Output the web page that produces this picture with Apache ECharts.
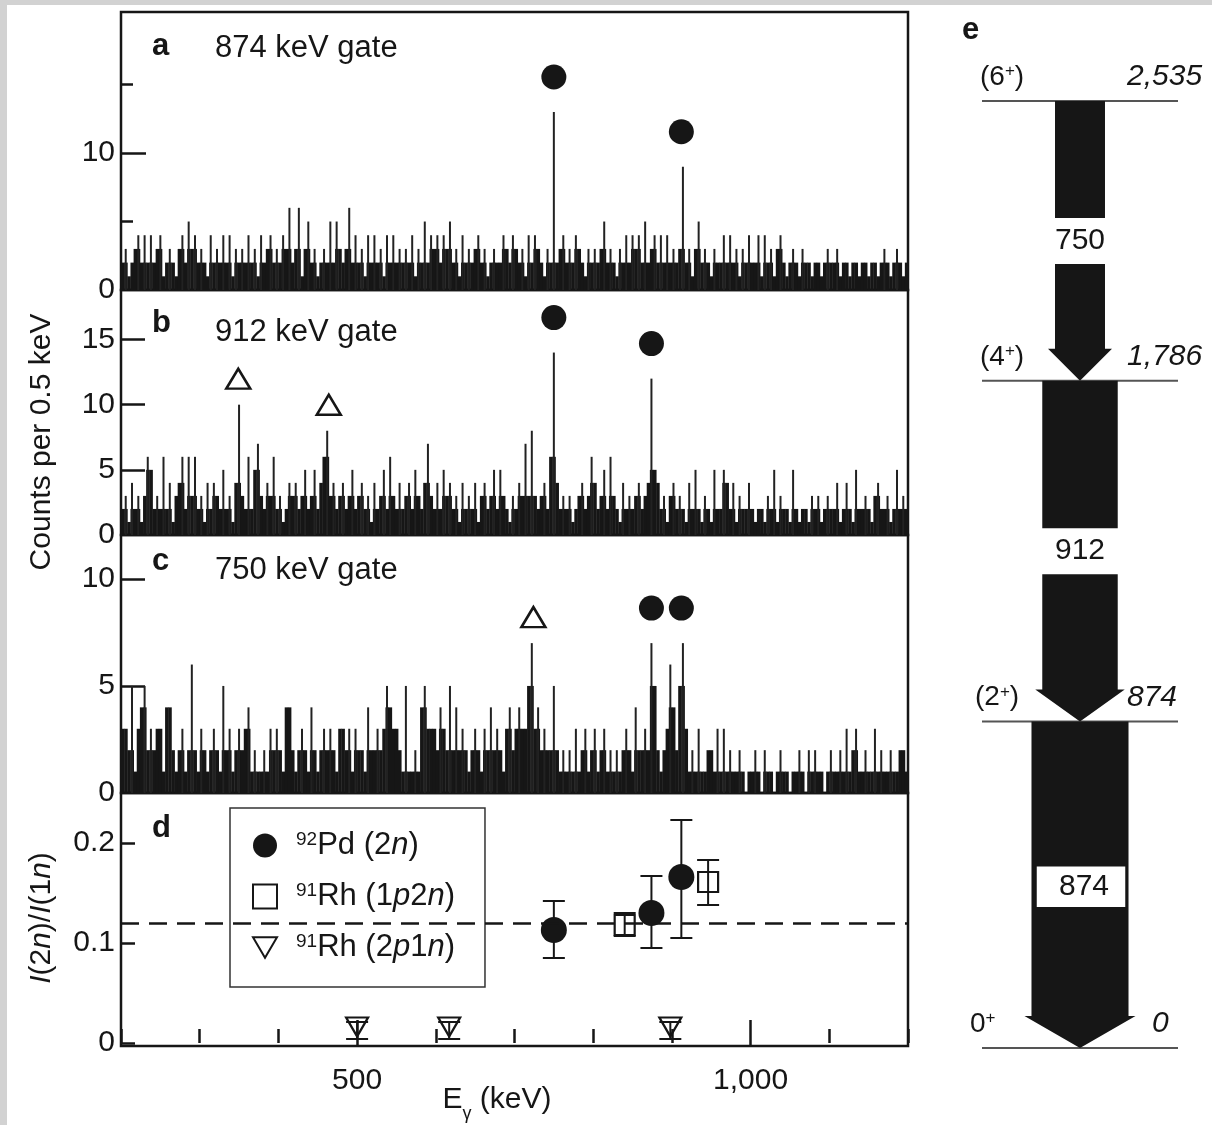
<!DOCTYPE html>
<html>
<head>
<meta charset="utf-8">
<title>92Pd gated spectra and level scheme</title>
<script src="https://cdn.jsdelivr.net/npm/echarts@6/dist/echarts.min.js"></script>
<style>
  html, body { margin: 0; padding: 0; background: #fff; }
  #chart { width: 1212px; height: 1125px; }
</style>
</head>
<body>
<div id="chart"></div>
<script>
const INK = '#161616';
const FONT = "'Liberation Sans', Arial, Helvetica, sans-serif";

// ---- gated gamma spectra (counts per bin, bins start at energyStart) ----
const energyStart = 200;   // keV
const binWidth = 4;        // keV

const countsA = [
  2,3,1,2,3,4,2,4,2,4,  2,3,4,1,2,3,2,1,3,4,  2,5,3,4,2,3,2,1,4,2,  3,2,4,2,4,1,3,2,3,2,
  4,2,3,1,4,2,3,4,2,3,  2,4,3,6,2,3,6,1,3,5,  2,3,1,2,3,2,5,2,5,3,  2,3,6,2,4,2,3,1,4,2,
  4,2,3,1,4,2,4,2,3,2,  3,2,4,1,3,2,5,2,4,3,  4,2,4,3,5,2,3,1,4,2,  3,2,3,4,2,3,1,2,3,2,
  2,4,3,2,4,3,2,3,1,4,  2,4,3,2,1,3,2,13,2,3, 4,2,3,2,4,3,2,1,3,2,  3,2,3,5,2,3,2,1,3,2,
  4,2,4,3,4,2,5,2,3,4,  2,4,2,4,2,3,2,3,9,2,  3,1,3,5,2,3,2,1,3,2,  2,4,2,4,2,3,1,3,2,4,
  2,2,4,1,4,2,3,1,3,4,  2,1,2,3,2,1,3,2,2,1,  2,2,1,2,3,2,2,3,1,2,  2,1,2,2,1,2,2,1,2,2,
  1,2,3,2,1,2,3,2,1,2
];
const countsB = [
  2,3,1,4,2,3,1,3,6,5,  2,3,2,6,2,4,1,3,4,6,  2,6,3,6,2,3,1,4,2,4,  3,2,5,2,3,1,4,10,3,2,
  6,2,5,7,3,2,4,3,6,2,  3,1,2,4,3,4,2,3,5,2,  3,5,2,4,6,8,3,4,2,3,  4,2,3,5,2,3,4,2,3,1,
  4,2,3,5,2,6,3,2,4,2,  3,4,2,5,3,2,4,7,3,2,  4,2,5,3,4,2,3,1,4,2,  3,2,4,1,3,4,2,3,5,2,
  5,3,2,1,3,2,4,3,7,3,  8,3,2,3,4,2,6,14,4,2, 3,2,3,1,2,3,4,2,3,6,  4,2,3,5,2,6,3,2,1,4,
  2,3,2,3,4,2,3,4,12,5, 4,2,3,1,3,4,2,3,2,1,  4,2,5,2,1,3,2,1,5,2,  2,5,4,2,4,1,3,2,2,4,
  2,1,2,2,1,3,2,5,1,3,  2,2,1,5,2,1,2,2,1,3,  2,3,1,2,3,2,2,4,1,2,  4,2,1,5,2,2,3,2,1,3,
  4,2,2,3,1,2,5,2,3,2
];
const countsC = [
  3,3,2,5,1,3,4,5,2,3,  2,3,3,1,4,4,2,1,2,3,  1,2,6,2,1,3,2,1,2,3,  2,1,5,2,3,1,2,3,2,3,
  4,1,2,1,1,2,1,3,2,3,  2,1,4,4,2,1,2,3,2,1,  4,2,1,2,3,2,3,2,1,3,  3,2,3,1,3,2,2,1,4,2,
  2,3,2,3,5,4,3,3,2,1,  5,1,1,2,1,4,5,3,3,3,  2,4,3,2,5,2,4,2,3,2,  1,2,3,2,1,3,2,4,2,3,
  2,1,3,4,2,3,4,3,3,5,  7,3,4,2,3,2,2,5,2,1,  2,1,2,1,3,1,2,3,1,2,  3,1,2,3,1,2,1,2,1,2,
  3,2,1,4,2,2,3,2,7,5,  2,1,2,3,6,4,2,5,7,3,  1,2,1,3,1,1,2,2,1,3,  1,3,1,2,1,1,2,1,0,1,
  1,2,1,0,2,1,1,0,1,2,  1,1,0,1,1,2,1,0,2,1,  2,1,1,0,1,2,1,1,2,1,  3,1,2,3,1,1,2,1,1,3,
  1,2,1,1,2,1,1,2,2,1
];

// gamma lines flagged in each gated spectrum (keV)
const pdLinesA = [750, 912];
const pdLinesB = [750, 874];
const rhLinesB = [349, 464];
const pdLinesC = [874, 912];
const rhLinesC = [724];

// ---- yield ratio I(2n)/I(1n) ----
const pdEnergy = [750, 874, 912];
const pdRatio  = [0.113, 0.130, 0.166];
const pdLow    = [0.085, 0.095, 0.105];
const pdHigh   = [0.142, 0.167, 0.223];

const rh1Energy = [840, 946];
const rh1Ratio  = [0.118, 0.161];
const rh1Low    = [0.107, 0.138];
const rh1High   = [0.130, 0.183];

const rh2Energy = [500, 617, 898];
const rh2Ratio  = [0.016, 0.016, 0.016];
const rh2Low    = [0.004, 0.004, 0.004];
const rh2High   = [0.021, 0.021, 0.021];

const meanRatio = 0.122;

// ---- level scheme of 92Pd ----
const levelEnergy = [0, 874, 1786, 2535];
const levelSpin   = ['0{s|+}', '(2{s|+})', '(4{s|+})', '(6{s|+})'];
const levelLabel  = ['0', '874', '1,786', '2,535'];
const gammaLabel     = ['750', '912', '874'];
const gammaFrom      = [2535, 1786, 874];
const gammaTo        = [1786, 874, 0];
const gammaIntensity = [51, 77, 99];

// ---- tick values ----
const ticksMajorA = [10], ticksMinorA = [5, 15], labelsA = [0, 10];
const ticksB = [5, 10, 15], labelsB = [0, 5, 10, 15];
const ticksC = [5, 10], labelsC = [0, 5, 10];
const ticksD = [0, 0.1, 0.2], labelsD = [0, 0.1, 0.2];
const energyTicksMajor = [500, 1000];

const NAME_PD  = '92Pd (2n)';
const NAME_RH1 = '91Rh (1p2n)';
const NAME_RH2 = '91Rh (2p1n)';
const legendText = {
  [NAME_PD]:  '{sup|92}Pd (2{it|n})',
  [NAME_RH1]: '{sup|91}Rh (1{it|p}2{it|n})',
  [NAME_RH2]: '{sup|91}Rh (2{it|p}1{it|n})'
};

// ---- helpers ----
function binIndex(e) { return Math.floor((e - energyStart) / binWidth); }
function peakHeight(counts, e) {
  const k = binIndex(e);
  return Math.max(counts[k - 1], counts[k], counts[k + 1]);
}
function spectrumData(counts) {
  return counts.map((v, k) => [energyStart + binWidth * (k + 0.5), v]);
}
// each bin: solid part up to the level shared with a neighbour, thin spike above it
function spectrumRenderer(counts) {
  return function (params, api) {
    const k = params.dataIndex;
    const v = counts[k];
    const prev = k > 0 ? counts[k - 1] : v;
    const next = k < counts.length - 1 ? counts[k + 1] : v;
    const core = Math.min(v, Math.max(prev, next));
    const e = api.value(0);
    const l = api.coord([e - binWidth / 2, 0]);
    const r = api.coord([e + binWidth / 2, 0]);
    const yCore = api.coord([e, core])[1];
    const yTop = api.coord([e, v])[1];
    const children = [];
    if (core > 0) {
      children.push({ type: 'rect', shape: { x: l[0], y: yCore, width: r[0] - l[0] + 0.4, height: l[1] - yCore }, style: { fill: INK } });
    }
    if (v > core) {
      const cx = (l[0] + r[0]) / 2;
      children.push({ type: 'rect', shape: { x: cx - 1, y: yTop, width: 2, height: l[1] - yTop }, style: { fill: '#222' } });
    }
    return { type: 'group', children };
  };
}
function spectrumSeries(counts, axisIdx, yIdx) {
  return {
    type: 'custom', xAxisIndex: axisIdx, yAxisIndex: yIdx, silent: true,
    data: spectrumData(counts), renderItem: spectrumRenderer(counts), z: 2
  };
}
function markerSeries(lines, counts, axisIdx, yIdx, kind) {
  const circle = kind === 'circle';
  return {
    type: 'scatter', xAxisIndex: axisIdx, yAxisIndex: yIdx, silent: true, clip: false,
    data: lines.map(e => [e, peakHeight(counts, e)]),
    symbol: circle ? 'circle' : 'triangle',
    symbolSize: circle ? 25 : [24, 20],
    symbolOffset: [0, circle ? -35 : -26],
    itemStyle: circle
      ? { color: INK, opacity: 1 }
      : { color: 'rgba(0,0,0,0)', borderColor: INK, borderWidth: 2.5, opacity: 1 },
    z: 5
  };
}
function errorBarItem(params, api) {
  const e = api.value(0);
  const p1 = api.coord([e, api.value(1)]);
  const p2 = api.coord([e, api.value(2)]);
  const cap = 11;
  const st = { stroke: INK, lineWidth: 2 };
  return {
    type: 'group', children: [
      { type: 'line', shape: { x1: p1[0], y1: p1[1], x2: p2[0], y2: p2[1] }, style: st },
      { type: 'line', shape: { x1: p1[0] - cap, y1: p1[1], x2: p1[0] + cap, y2: p1[1] }, style: st },
      { type: 'line', shape: { x1: p2[0] - cap, y1: p2[1], x2: p2[0] + cap, y2: p2[1] }, style: st }
    ]
  };
}

const textBase = { fontFamily: FONT, color: INK };
const gridBox = { show: true, borderColor: INK, borderWidth: 2.5, backgroundColor: 'rgba(0,0,0,0)' };

function energyAxis(gridIndex) {
  return {
    type: 'value', gridIndex, min: 200, max: 1200, interval: 100,
    axisLine: { show: false }, axisTick: { show: false }, axisLabel: { show: false }, splitLine: { show: false }
  };
}
function countAxis(gridIndex, max, interval, ticks, labels, tickLen) {
  return {
    type: 'value', gridIndex, position: 'left', offset: 0, min: 0, max, interval,
    axisLine: { show: false }, splitLine: { show: false },
    axisTick: { show: ticks.length > 0, inside: true, length: tickLen, customValues: ticks, lineStyle: { color: INK, width: 2.5 } },
    axisLabel: labels ? { show: true, customValues: labels, margin: 6, fontSize: 30, fontFamily: FONT, color: INK } : { show: false }
  };
}

// ---- level scheme renderers ----
const spinX = [970, 975, 980, 980];
const energyLabelX = [1152, 1127, 1127, 1127];
function levelItem(params, api) {
  const i = params.dataIndex;
  const E = api.value(1);
  const a = api.coord([-100, E]);
  const b = api.coord([100, E]);
  return {
    type: 'group', children: [
      { type: 'line', shape: { x1: a[0], y1: a[1], x2: b[0], y2: b[1] }, style: { stroke: '#555', lineWidth: 2 } },
      { type: 'text', x: spinX[i], y: a[1] - 24, style: {
          text: levelSpin[i], fill: INK, fontFamily: FONT, fontSize: 28,
          align: 'left', verticalAlign: 'middle', textAlign: 'left', textVerticalAlign: 'middle',
          rich: { s: { fontSize: 17, fontFamily: FONT, fill: INK, verticalAlign: 'top', lineHeight: 16 } }
      } },
      { type: 'text', x: energyLabelX[i], y: a[1] - 24, style: {
          text: levelLabel[i], fill: INK, fontFamily: FONT, fontSize: 30, fontStyle: 'italic',
          align: 'left', verticalAlign: 'middle', textAlign: 'left', textVerticalAlign: 'middle'
      } }
    ]
  };
}
function transitionItem(params, api) {
  const i = params.dataIndex;
  const top = api.coord([0, gammaFrom[i]]);
  const tip = api.coord([0, gammaTo[i]]);
  const half = (api.coord([gammaIntensity[i] / 2, 0])[0] - api.coord([-gammaIntensity[i] / 2, 0])[0]) / 2;
  const cx = top[0];
  const headLen = 32, wing = 7;
  const midY = (top[1] + tip[1]) / 2;
  const boxed = i === 2;
  const gap = 23;
  const yStart = boxed ? top[1] : midY + gap;
  const yHead = tip[1] - headLen;
  const children = [];
  if (!boxed) {
    children.push({ type: 'rect', shape: { x: cx - half, y: top[1], width: 2 * half, height: midY - gap - top[1] }, style: { fill: INK } });
  }
  children.push({ type: 'polygon', shape: { points: [
    [cx - half, yStart], [cx + half, yStart], [cx + half, yHead], [cx + half + wing, yHead],
    [cx, tip[1]], [cx - half - wing, yHead], [cx - half, yHead]
  ] }, style: { fill: INK } });
  if (boxed) {
    children.push({ type: 'rect', shape: { x: cx - 44, y: midY - 19, width: 90, height: 42 }, style: { fill: '#fff', stroke: INK, lineWidth: 1.5 } });
  }
  children.push({ type: 'text', x: cx + (boxed ? 4 : 0), y: midY + (boxed ? 2 : 0), style: {
    text: gammaLabel[i], fill: INK, fontFamily: FONT, fontSize: 30,
    align: 'center', verticalAlign: 'middle', textAlign: 'center', textVerticalAlign: 'middle'
  } });
  return { type: 'group', children };
}

function label(text, x, y, opts) {
  return Object.assign({
    type: 'text', x, y, z: 10,
    style: Object.assign({
      text, fill: INK, fontFamily: FONT, fontSize: 31,
      align: 'left', verticalAlign: 'middle', textAlign: 'left', textVerticalAlign: 'middle'
    }, opts && opts.style)
  }, opts && opts.el);
}

const chart = echarts.init(document.getElementById('chart'), null, { renderer: 'canvas' });

const option = {
  backgroundColor: '#fff',
  animation: false,
  textStyle: textBase,
  grid: [
    Object.assign({ left: 121, top: 12, width: 787, height: 278 }, gridBox),
    Object.assign({ left: 121, top: 290, width: 787, height: 245 }, gridBox),
    Object.assign({ left: 121, top: 535, width: 787, height: 258 }, gridBox),
    Object.assign({ left: 121, top: 793, width: 787, height: 253 }, gridBox),
    { show: false, left: 982, top: 101, width: 196, height: 947 }
  ],
  xAxis: [
    energyAxis(0), energyAxis(1), energyAxis(2),
    {
      type: 'value', gridIndex: 3, position: 'bottom', offset: 0, min: 200, max: 1200, interval: 100,
      axisLine: { show: false }, splitLine: { show: false },
      axisTick: { show: true, inside: true, length: 14, lineStyle: { color: INK, width: 2.5 } },
      axisLabel: { show: false }
    },
    {
      type: 'value', gridIndex: 3, position: 'bottom', offset: 0, min: 200, max: 1200, interval: 100,
      axisLine: { show: false }, splitLine: { show: false },
      axisTick: { show: true, inside: true, length: 26, customValues: energyTicksMajor, lineStyle: { color: INK, width: 2.5 } },
      axisLabel: {
        show: true, customValues: energyTicksMajor, margin: 20, fontSize: 30, fontFamily: FONT, color: INK,
        formatter: v => (v === 1000 ? '1,000' : String(v))
      }
    },
    { type: 'value', gridIndex: 4, min: -100, max: 100, show: false }
  ],
  yAxis: [
    countAxis(0, 20.3, 10, ticksMajorA, labelsA, 25),
    countAxis(0, 20.3, 10, ticksMinorA, null, 12),
    countAxis(1, 18.8, 5, ticksB, labelsB, 24),
    countAxis(2, 12.05, 5, ticksC, labelsC, 24),
    {
      type: 'value', gridIndex: 3, position: 'left', min: -0.003, max: 0.25,
      axisLine: { show: false }, splitLine: { show: false },
      axisTick: { show: true, inside: true, length: 14, customValues: ticksD, lineStyle: { color: INK, width: 2.5 } },
      axisLabel: {
        show: true, customValues: labelsD, margin: 6, fontSize: 30, fontFamily: FONT, color: INK,
        formatter: v => (v === 0 ? '0' : v.toFixed(1))
      }
    },
    { type: 'value', gridIndex: 4, min: 0, max: 2535, show: false }
  ],
  legend: {
    data: [NAME_PD, NAME_RH1, NAME_RH2],
    orient: 'vertical', left: 230, top: 808,
    padding: [22, 30, 24, 22],
    itemGap: 20, itemWidth: 24, itemHeight: 24,
    backgroundColor: '#fff', borderColor: '#333', borderWidth: 1.5, borderRadius: 0,
    selectedMode: false,
    formatter: name => legendText[name],
    textStyle: {
      fontFamily: FONT, fontSize: 31, color: INK, lineHeight: 30, padding: [0, 0, 0, 14],
      rich: {
        sup: { fontFamily: FONT, fontSize: 19, color: INK, verticalAlign: 'top', lineHeight: 17 },
        it: { fontFamily: FONT, fontSize: 31, color: INK, fontStyle: 'italic', lineHeight: 30 }
      }
    }
  },
  series: [
    // panel a
    spectrumSeries(countsA, 0, 0),
    markerSeries(pdLinesA, countsA, 0, 0, 'circle'),
    // panel b
    spectrumSeries(countsB, 1, 2),
    markerSeries(pdLinesB, countsB, 1, 2, 'circle'),
    markerSeries(rhLinesB, countsB, 1, 2, 'triangle'),
    // panel c
    spectrumSeries(countsC, 2, 3),
    markerSeries(pdLinesC, countsC, 2, 3, 'circle'),
    markerSeries(rhLinesC, countsC, 2, 3, 'triangle'),
    // panel d
    {
      type: 'custom', xAxisIndex: 3, yAxisIndex: 4, silent: true, z: 3,
      data: [].concat(
        pdEnergy.map((e, i) => [e, pdLow[i], pdHigh[i]]),
        rh1Energy.map((e, i) => [e, rh1Low[i], rh1High[i]]),
        rh2Energy.map((e, i) => [e, rh2Low[i], rh2High[i]])
      ),
      renderItem: errorBarItem
    },
    {
      name: NAME_PD, type: 'scatter', xAxisIndex: 3, yAxisIndex: 4, silent: true, z: 4,
      data: pdEnergy.map((e, i) => [e, pdRatio[i]]),
      symbol: 'circle', symbolSize: 26, itemStyle: { color: INK, opacity: 1 },
      markLine: {
        silent: true, symbol: 'none', label: { show: false },
        lineStyle: { color: INK, width: 2.5, type: [18, 10], opacity: 1 },
        data: [{ yAxis: meanRatio }]
      }
    },
    {
      name: NAME_RH1, type: 'scatter', xAxisIndex: 3, yAxisIndex: 4, silent: true, z: 4,
      data: rh1Energy.map((e, i) => [e, rh1Ratio[i]]),
      symbol: 'rect', symbolSize: 20,
      itemStyle: { color: 'rgba(0,0,0,0)', borderColor: INK, borderWidth: 2.2, opacity: 1 }
    },
    {
      name: NAME_RH2, type: 'scatter', xAxisIndex: 3, yAxisIndex: 4, silent: true, z: 4,
      data: rh2Energy.map((e, i) => [e, rh2Ratio[i]]),
      symbol: 'path://M0,0 L22,0 L11,19 Z', symbolSize: [22, 19],
      itemStyle: { color: 'rgba(0,0,0,0)', borderColor: INK, borderWidth: 2.2, opacity: 1 }
    },
    // panel e
    {
      type: 'custom', xAxisIndex: 5, yAxisIndex: 5, silent: true, clip: false, z: 2,
      data: levelEnergy.map(e => [0, e]),
      renderItem: levelItem
    },
    {
      type: 'custom', xAxisIndex: 5, yAxisIndex: 5, silent: true, clip: false, z: 3,
      data: gammaFrom.map((e, i) => [0, e, gammaTo[i]]),
      renderItem: transitionItem
    }
  ],
  graphic: [
    { type: 'rect', shape: { x: 0, y: 0, width: 1212, height: 5 }, style: { fill: '#d2d2d2' }, z: 20 },
    { type: 'rect', shape: { x: 0, y: 0, width: 7, height: 1125 }, style: { fill: '#d2d2d2' }, z: 20 },
    label('a', 152, 46, { style: { fontWeight: 'bold' } }),
    label('874 keV gate', 215, 48),
    label('b', 152, 323, { style: { fontWeight: 'bold' } }),
    label('912 keV gate', 215, 332),
    label('c', 152, 561, { style: { fontWeight: 'bold' } }),
    label('750 keV gate', 215, 570),
    label('d', 152, 828, { style: { fontWeight: 'bold' } }),
    label('e', 962, 30, { style: { fontWeight: 'bold' } }),
    label('Counts per 0.5 keV', 42, 442, {
      style: { align: 'center', textAlign: 'center', fontSize: 30 },
      el: { rotation: Math.PI / 2 }
    }),
    label('{i|I}(2{i|n})/{i|I}(1{i|n})', 42, 918, {
      style: {
        align: 'center', textAlign: 'center', fontSize: 30,
        rich: { i: { fontFamily: FONT, fontSize: 30, fontStyle: 'italic', fill: INK } }
      },
      el: { rotation: Math.PI / 2 }
    }),
    label('E{g|γ} (keV)', 497, 1100, {
      style: {
        align: 'center', textAlign: 'center', fontSize: 30,
        rich: { g: { fontFamily: FONT, fontSize: 18, fill: INK, verticalAlign: 'bottom', lineHeight: 14, padding: [0, 0, -8, 0] } }
      }
    })
  ]
};

chart.setOption(option);
</script>
</body>
</html>
